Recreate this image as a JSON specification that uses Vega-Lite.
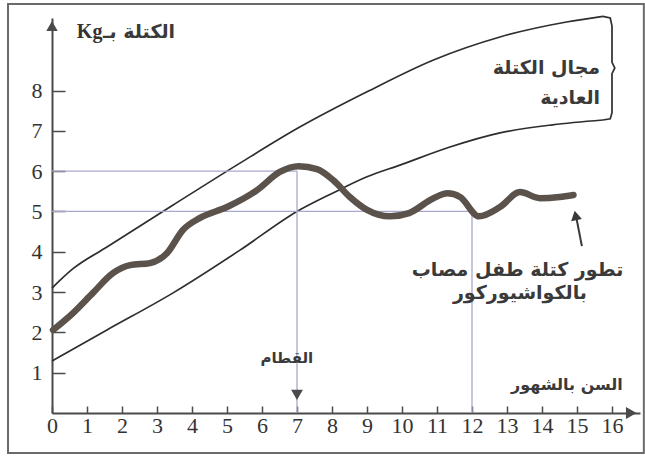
{
  "$schema": "https://vega.github.io/schema/vega-lite/v6.json",
  "width": 588,
  "height": 395,
  "autosize": {"type": "none"},
  "padding": {"left": 52, "top": 18, "right": 5, "bottom": 44},
  "background": "white",
  "config": {"view": {"stroke": null}},
  "datasets": {
    "curves": [
      {"series": "upper", "m": 0, "kg": 3.1},
      {"series": "upper", "m": 0.6, "kg": 3.58},
      {"series": "upper", "m": 1.57, "kg": 4.12},
      {"series": "upper", "m": 3.46, "kg": 5.16},
      {"series": "upper", "m": 5.37, "kg": 6.2},
      {"series": "upper", "m": 7.09, "kg": 7.1},
      {"series": "upper", "m": 9.0, "kg": 7.97},
      {"series": "upper", "m": 10.9, "kg": 8.76},
      {"series": "upper", "m": 12.8, "kg": 9.33},
      {"series": "upper", "m": 14.7, "kg": 9.7},
      {"series": "upper", "m": 15.74, "kg": 9.84},
      {"series": "lower", "m": 0, "kg": 1.29},
      {"series": "lower", "m": 1.57, "kg": 2.06},
      {"series": "lower", "m": 3.46, "kg": 2.98},
      {"series": "lower", "m": 5.37, "kg": 4.04},
      {"series": "lower", "m": 7.0, "kg": 5.0},
      {"series": "lower", "m": 8.03, "kg": 5.46},
      {"series": "lower", "m": 9.0, "kg": 5.86},
      {"series": "lower", "m": 9.94, "kg": 6.15},
      {"series": "lower", "m": 11.37, "kg": 6.6},
      {"series": "lower", "m": 12.8, "kg": 6.95},
      {"series": "lower", "m": 14.3, "kg": 7.15},
      {"series": "lower", "m": 15.74, "kg": 7.27},
      {"series": "child", "m": 0.03, "kg": 2.06},
      {"series": "child", "m": 0.6, "kg": 2.48},
      {"series": "child", "m": 1.17, "kg": 2.98},
      {"series": "child", "m": 1.74, "kg": 3.47},
      {"series": "child", "m": 2.23, "kg": 3.67},
      {"series": "child", "m": 2.8, "kg": 3.72},
      {"series": "child", "m": 3.29, "kg": 3.97},
      {"series": "child", "m": 3.74, "kg": 4.54},
      {"series": "child", "m": 4.23, "kg": 4.84},
      {"series": "child", "m": 5.0, "kg": 5.11},
      {"series": "child", "m": 5.86, "kg": 5.53},
      {"series": "child", "m": 6.51, "kg": 5.98},
      {"series": "child", "m": 7.05, "kg": 6.12},
      {"series": "child", "m": 7.57, "kg": 6.05},
      {"series": "child", "m": 8.03, "kg": 5.78},
      {"series": "child", "m": 8.51, "kg": 5.36},
      {"series": "child", "m": 9.0, "kg": 5.04},
      {"series": "child", "m": 9.66, "kg": 4.88},
      {"series": "child", "m": 10.2, "kg": 4.96},
      {"series": "child", "m": 10.9, "kg": 5.33},
      {"series": "child", "m": 11.3, "kg": 5.45},
      {"series": "child", "m": 11.66, "kg": 5.36},
      {"series": "child", "m": 12.2, "kg": 4.88},
      {"series": "child", "m": 12.8, "kg": 5.11},
      {"series": "child", "m": 13.37, "kg": 5.48},
      {"series": "child", "m": 13.94, "kg": 5.33},
      {"series": "child", "m": 14.5, "kg": 5.36},
      {"series": "child", "m": 14.9, "kg": 5.41}
    ],
    "brace": [
      {"i": 0, "m": 15.74, "kg": 9.84},
      {"i": 1, "m": 15.95, "kg": 9.8},
      {"i": 2, "m": 16.0, "kg": 9.6},
      {"i": 3, "m": 16.0, "kg": 8.7},
      {"i": 4, "m": 16.08, "kg": 8.56},
      {"i": 5, "m": 16.0, "kg": 8.42},
      {"i": 6, "m": 16.0, "kg": 7.45},
      {"i": 7, "m": 15.95, "kg": 7.3},
      {"i": 8, "m": 15.74, "kg": 7.27}
    ],
    "refs": [
      {"m": 0, "m2": 7, "kg": 6, "kg2": 6},
      {"m": 0, "m2": 12, "kg": 5, "kg2": 5},
      {"m": 7, "m2": 7, "kg": 0, "kg2": 6},
      {"m": 12, "m2": 12, "kg": 0, "kg2": 5}
    ],
    "one": [{}]
  },
  "layer": [
    {
      "data": {"name": "curves"},
      "transform": [{"filter": "datum.series !== 'child'"}],
      "mark": {"type": "line", "color": "#2e2e2e", "strokeWidth": 1.7, "interpolate": "monotone"},
      "encoding": {
        "x": {
          "field": "m", "type": "quantitative",
          "scale": {"domain": [0, 16.8], "nice": false, "zero": false},
          "axis": {
            "title": null, "values": [0,1,2,3,4,5,6,7,8,9,10,11,12,13,14,15,16], "tickCount": 17,
            "grid": false, "domainColor": "#4a4a4a", "domainWidth": 2,
            "tickColor": "#4a4a4a", "tickWidth": 1.5, "tickSize": -7,
            "labelFont": "Liberation Serif", "labelFontSize": 22, "labelColor": "#333333",
            "labelPadding": 9, "labelFlush": false, "labelOverlap": false, "labelBound": false
          }
        },
        "y": {
          "field": "kg", "type": "quantitative",
          "scale": {"domain": [0, 9.8], "nice": false, "zero": false},
          "axis": {
            "title": null, "values": [1,2,3,4,5,6,7,8],
            "grid": false, "domainColor": "#4a4a4a", "domainWidth": 2,
            "tickColor": "#4a4a4a", "tickWidth": 1.5, "tickSize": -13,
            "labelFont": "Liberation Serif", "labelFontSize": 22, "labelColor": "#333333",
            "labelPadding": 23, "labelOverlap": false
          }
        },
        "detail": {"field": "series"}
      }
    },
    {
      "data": {"name": "refs"},
      "mark": {"type": "rule", "color": "#a8a8cc", "strokeWidth": 1.3},
      "encoding": {
        "x": {"field": "m", "type": "quantitative"},
        "x2": {"field": "m2"},
        "y": {"field": "kg", "type": "quantitative"},
        "y2": {"field": "kg2"}
      }
    },
    {
      "data": {"name": "brace"},
      "mark": {"type": "line", "color": "#2e2e2e", "strokeWidth": 1.7},
      "encoding": {
        "x": {"field": "m", "type": "quantitative"},
        "y": {"field": "kg", "type": "quantitative"},
        "order": {"field": "i"}
      }
    },
    {
      "data": {"name": "curves"},
      "transform": [{"filter": "datum.series === 'child'"}],
      "mark": {"type": "line", "color": "#5a524b", "strokeWidth": 6.5, "interpolate": "monotone", "strokeCap": "round"},
      "encoding": {
        "x": {"field": "m", "type": "quantitative"},
        "y": {"field": "kg", "type": "quantitative"}
      }
    },
    {
      "data": {"name": "one"},
      "mark": {"type": "rect", "fill": null, "stroke": "#6a6a6a", "strokeWidth": 2},
      "encoding": {
        "x": {"datum": -1.257, "type": "quantitative"},
        "x2": {"datum": 16.91},
        "y": {"datum": -0.99, "type": "quantitative"},
        "y2": {"datum": 10.15}
      }
    },
    {
      "data": {"name": "one"},
      "mark": {"type": "point", "shape": "triangle-right", "filled": true, "color": "#4a4a4a", "size": 150, "opacity": 1},
      "encoding": {
        "x": {"datum": 16.55, "type": "quantitative"},
        "y": {"datum": 0, "type": "quantitative"}
      }
    },
    {
      "data": {"name": "one"},
      "mark": {"type": "point", "shape": "triangle-up", "filled": true, "color": "#4a4a4a", "size": 130, "opacity": 1},
      "encoding": {
        "x": {"datum": 0, "type": "quantitative"},
        "y": {"datum": 9.6, "type": "quantitative"}
      }
    },
    {
      "data": {"name": "one"},
      "mark": {"type": "point", "shape": "triangle-down", "filled": true, "color": "#4a4a4a", "size": 140, "opacity": 1},
      "encoding": {
        "x": {"datum": 7, "type": "quantitative"},
        "y": {"datum": 0.45, "type": "quantitative"}
      }
    },
    {
      "data": {"name": "one"},
      "mark": {"type": "rule", "color": "#3a3a3a", "strokeWidth": 2},
      "encoding": {
        "x": {"datum": 15.14, "type": "quantitative"},
        "x2": {"datum": 14.98},
        "y": {"datum": 4.14, "type": "quantitative"},
        "y2": {"datum": 4.85}
      }
    },
    {
      "data": {"name": "one"},
      "mark": {"type": "point", "shape": "triangle-up", "filled": true, "color": "#3a3a3a", "size": 120, "opacity": 1, "angle": -11},
      "encoding": {
        "x": {"datum": 14.96, "type": "quantitative"},
        "y": {"datum": 4.9, "type": "quantitative"}
      }
    },
    {
      "data": {"values": [
        {"m": 13.3, "kg": 3.55, "text": "تطور كتلة طفل مصاب"},
        {"m": 13.37, "kg": 2.98, "text": "بالكواشيوركور"}
      ]},
      "mark": {"type": "text", "font": "DejaVu Sans", "fontSize": 19, "fontWeight": "bold", "color": "#3a3a3a", "align": "center", "baseline": "middle"},
      "encoding": {
        "x": {"field": "m", "type": "quantitative"},
        "y": {"field": "kg", "type": "quantitative"},
        "text": {"field": "text"}
      }
    },
    {
      "data": {"values": [
        {"m": 15.66, "kg": 8.56, "text": "مجال الكتلة"},
        {"m": 15.66, "kg": 7.82, "text": "العادية"}
      ]},
      "mark": {"type": "text", "font": "DejaVu Sans", "fontSize": 19, "fontWeight": "bold", "color": "#3a3a3a", "align": "right", "baseline": "middle"},
      "encoding": {
        "x": {"field": "m", "type": "quantitative"},
        "y": {"field": "kg", "type": "quantitative"},
        "text": {"field": "text"}
      }
    },
    {
      "data": {"values": [
        {"m": 16.31, "kg": 0.69, "text": "السن بالشهور"}
      ]},
      "mark": {"type": "text", "font": "DejaVu Sans", "fontSize": 16, "fontWeight": "bold", "color": "#3a3a3a", "align": "right", "baseline": "middle"},
      "encoding": {
        "x": {"field": "m", "type": "quantitative"},
        "y": {"field": "kg", "type": "quantitative"},
        "text": {"field": "text"}
      }
    },
    {
      "data": {"values": [
        {"m": 6.71, "kg": 1.36, "text": "القطام"}
      ]},
      "mark": {"type": "text", "font": "DejaVu Sans", "fontSize": 15, "fontWeight": "bold", "color": "#3a3a3a", "align": "center", "baseline": "middle"},
      "encoding": {
        "x": {"field": "m", "type": "quantitative"},
        "y": {"field": "kg", "type": "quantitative"},
        "text": {"field": "text"}
      }
    },
    {
      "data": {"values": [
        {"m": 1.46, "kg": 9.45, "text": "الكتلة بـ"}
      ]},
      "mark": {"type": "text", "font": "DejaVu Sans", "fontSize": 19, "fontWeight": "bold", "color": "#3a3a3a", "align": "left", "baseline": "middle"},
      "encoding": {
        "x": {"field": "m", "type": "quantitative"},
        "y": {"field": "kg", "type": "quantitative"},
        "text": {"field": "text"}
      }
    },
    {
      "data": {"values": [
        {"m": 0.71, "kg": 9.45, "text": "Kg"}
      ]},
      "mark": {"type": "text", "font": "Liberation Serif", "fontSize": 20, "fontWeight": "bold", "color": "#333333", "align": "left", "baseline": "middle"},
      "encoding": {
        "x": {"field": "m", "type": "quantitative"},
        "y": {"field": "kg", "type": "quantitative"},
        "text": {"field": "text"}
      }
    }
  ]
}
